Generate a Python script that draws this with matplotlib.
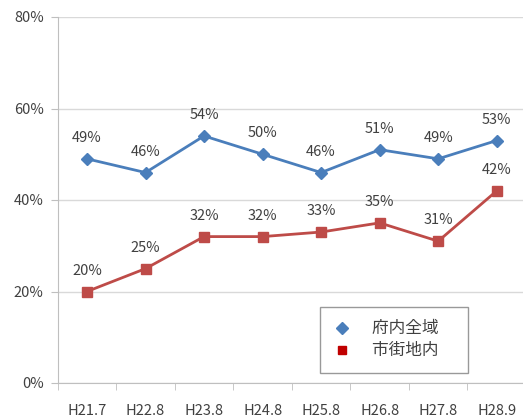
import matplotlib
matplotlib.use("Agg")
import matplotlib.pyplot as plt
import numpy as np

plt.rcParams['font.family'] = ['Noto Sans CJK JP', 'DejaVu Sans']

# data
categories = ['H21.7', 'H22.8', 'H23.8', 'H24.8', 'H25.8', 'H26.8', 'H27.8', 'H28.9']
zenpu = [49, 46, 54, 50, 46, 51, 49, 53]       # 府内全域
shigaichi = [20, 25, 32, 32, 33, 35, 31, 42]   # 市街地内
series_names = ['府内全域', '市街地内']
yticks = [0, 20, 40, 60, 80]

blue = '#4A7EBB'
red = '#BE4B48'
txt = '#404040'
grid = '#D9D9D9'

fig = plt.figure(figsize=(5.23, 4.18), dpi=100)
ax = fig.add_axes([57.7 / 523, 1 - 383 / 418, (526 - 57.7) / 523, (383 - 17) / 418])

x = np.arange(len(categories))
ax.plot(x, zenpu, color=blue, lw=2, marker='D', ms=6, mfc=blue, mec=blue)
ax.plot(x, shigaichi, color=red, lw=2, marker='s', ms=7, mfc=red, mec=red)

for xi, v in zip(x, zenpu):
    ax.annotate(f'{v}%', (xi, v), xytext=(0, 10), textcoords='offset points',
                ha='center', va='bottom', fontsize=10.5, color=txt)
for xi, v in zip(x, shigaichi):
    ax.annotate(f'{v}%', (xi, v), xytext=(0, 10), textcoords='offset points',
                ha='center', va='bottom', fontsize=10.5, color=txt)

ax.set_xlim(-0.5, len(categories) - 0.5)
ax.set_ylim(0, 80)
ax.set_yticks(yticks)
ax.set_yticklabels([f'{t}%' for t in yticks], fontsize=10.5, color=txt)
ax.set_xticks(x)
ax.set_xticklabels(categories, fontsize=10.5, color=txt)
ax.set_xticks(np.arange(-0.5, len(categories) + 0.5, 1), minor=True)
ax.tick_params(axis='x', which='major', length=0, pad=15)
ax.tick_params(axis='x', which='minor', length=5, color='#BFBFBF', direction='out')
ax.tick_params(axis='y', length=5, color='#BFBFBF', pad=5)

ax.grid(axis='y', color=grid, lw=1)
ax.set_axisbelow(True)
for s in ['top', 'right']:
    ax.spines[s].set_visible(False)
ax.spines['left'].set_color('#BFBFBF')
ax.spines['bottom'].set_color('#BFBFBF')

# legend: markers only, box at roughly x 320-472, y 307-373 px
h1 = plt.Line2D([], [], ls='none', marker='D', ms=6, color=blue)
h2 = plt.Line2D([], [], ls='none', marker='s', ms=6, color='#C00000')
leg = ax.legend([h1, h2], [n + '\u3000' for n in series_names], loc='upper left',
                bbox_to_anchor=((320 - 57.7) / (526 - 57.7), (383 - 307) / 366),
                borderaxespad=0, fontsize=12, frameon=True, fancybox=False,
                edgecolor='#808080', handlelength=1.0, handletextpad=1.3,
                labelspacing=0.3, borderpad=0.8)
for t in leg.get_texts():
    t.set_color(txt)
leg.get_frame().set_linewidth(1)

fig.savefig('out.png', dpi=100)
